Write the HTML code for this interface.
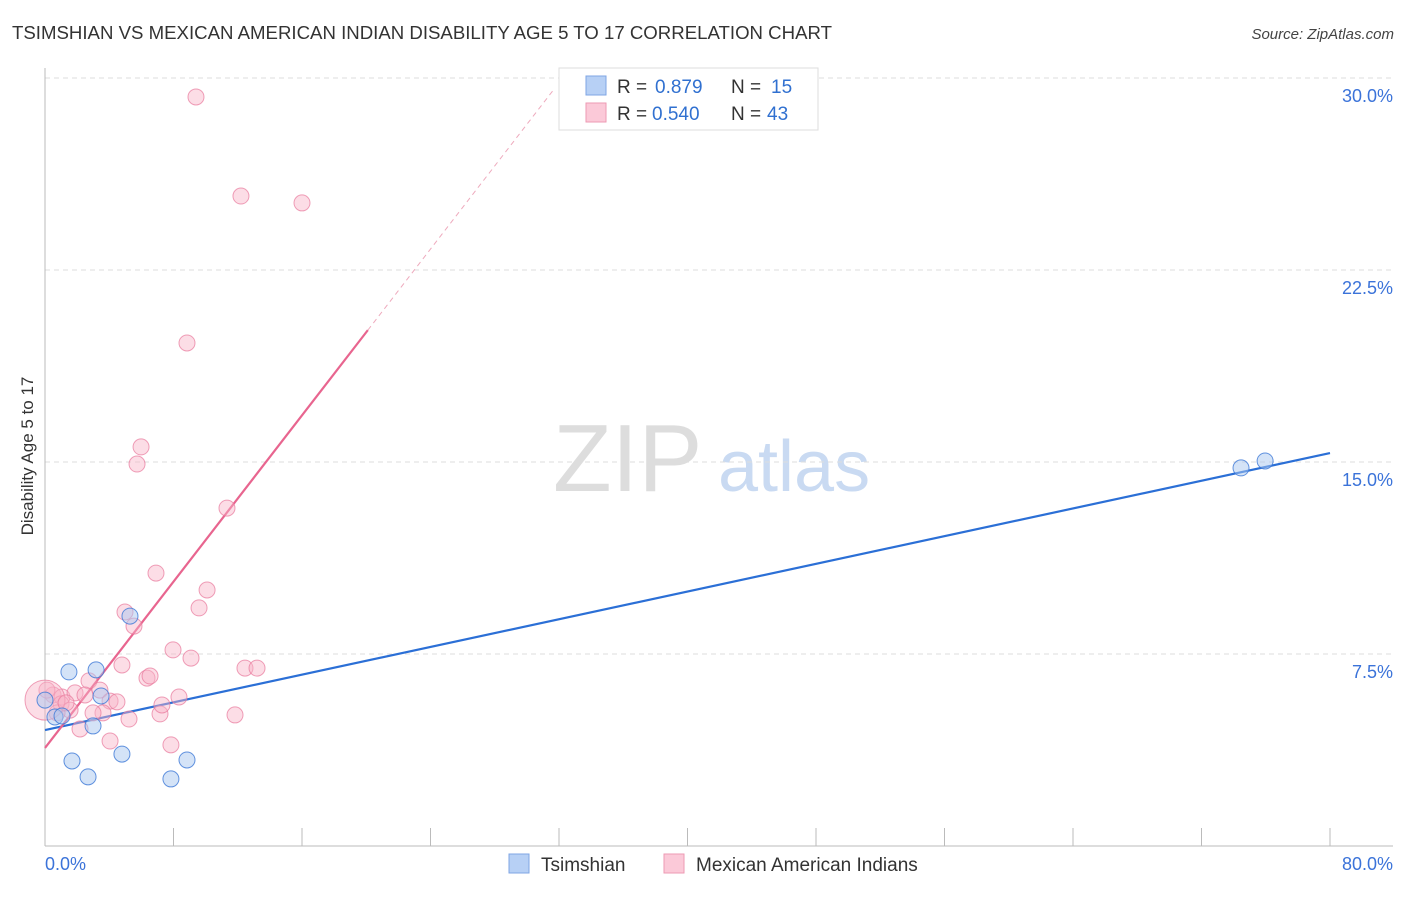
<!DOCTYPE html>
<html><head><meta charset="utf-8"><style>
body{margin:0;background:#fff;font-family:"Liberation Sans",sans-serif;}
svg text{font-family:"Liberation Sans",sans-serif;}
</style></head><body>
<svg id="chart" width="1406" height="892" xmlns="http://www.w3.org/2000/svg">
<text x="12" y="39" font-size="18" fill="#333" textLength="820" lengthAdjust="spacingAndGlyphs">TSIMSHIAN VS MEXICAN AMERICAN INDIAN DISABILITY AGE 5 TO 17 CORRELATION CHART</text>
<text x="1394" y="39" font-size="15" fill="#444" text-anchor="end" font-style="italic">Source: ZipAtlas.com</text>
<text transform="translate(33,456) rotate(-90)" font-size="17" fill="#333" text-anchor="middle">Disability Age 5 to 17</text>
<g><text x="553" y="491" font-size="96" font-family="Liberation Serif" fill="#ddd">ZIP</text><text x="718" y="491" font-size="72" fill="#c9daf2">atlas</text></g>
<g id="grid"></g><g id="axes"></g><g id="trends"></g><g id="pts"></g>
<g>
<rect x="559" y="68" width="259" height="62" fill="#fff" stroke="#ddd"/>
<rect x="586" y="76" width="20" height="19" fill="#b7d0f5" stroke="#7fa6e4"/>
<rect x="586" y="103" width="20" height="19" fill="#fbc9d8" stroke="#ee9ab3"/>
<text x="617" y="93" font-size="19" fill="#333">R =</text><text x="655" y="93" font-size="19" fill="#3070d0">0.879</text>
<text x="731" y="93" font-size="19" fill="#333">N =</text><text x="771" y="93" font-size="19" fill="#3070d0">15</text>
<text x="617" y="120" font-size="19" fill="#333">R =</text><text x="652" y="120" font-size="19" fill="#3070d0">0.540</text>
<text x="731" y="120" font-size="19" fill="#333">N =</text><text x="767" y="120" font-size="19" fill="#3070d0">43</text>
</g>
<g>
<rect x="509" y="854" width="20" height="19" fill="#b7d0f5" stroke="#7fa6e4"/>
<text x="541" y="871" font-size="19" fill="#333">Tsimshian</text>
<rect x="664" y="854" width="20" height="19" fill="#fbc9d8" stroke="#ee9ab3"/>
<text x="696" y="871" font-size="19" fill="#333">Mexican American Indians</text>
</g>
</svg>
<script>
const yTicks=[7.5,15,22.5,30];
const yTickLabels=["7.5%","15.0%","22.5%","30.0%"];
const xTicks=[0,8,16,24,32,40,48,56,64,72,80];
const blueX=[0,0.62,1.06,1.49,3.18,1.68,2.68,3.49,2.99,4.79,5.29,7.84,8.84,74.46,75.96];
const blueY=[5.70,5.04,5.08,6.80,6.88,3.32,2.70,5.86,4.69,3.59,8.98,2.62,3.36,14.77,15.04];
const pinkX=[9.40,12.20,16.00,8.84,5.98,5.73,11.33,6.91,10.09,4.98,9.59,5.54,7.97,9.09,4.79,12.45,13.20,6.35,6.54,2.74,8.34,0.50,1.06,1.87,3.42,2.49,4.05,4.48,1.00,0.12,3.61,2.99,7.16,7.28,11.83,5.23,2.18,4.05,7.84,1.56,0.75,0,1.31];
const pinkY=[29.26,25.39,25.12,19.65,15.59,14.92,13.20,10.66,10.00,9.14,9.30,8.59,7.66,7.34,7.07,6.95,6.95,6.56,6.64,6.45,5.82,5.90,5.82,5.98,6.09,5.90,5.66,5.63,5.55,6.09,5.20,5.20,5.16,5.51,5.12,4.96,4.57,4.10,3.95,5.31,5.20,5.70,5.59];
const blueTrend=[4.53,15.35];
const pinkTrend=[3.83,0.812];
const NS="http://www.w3.org/2000/svg";
const X=v=>45+v*1285/80, Y=v=>846-v*25.6;
function mk(t,a,p){const e=document.createElementNS(NS,t);for(const k in a)e.setAttribute(k,a[k]);document.getElementById(p).appendChild(e);return e;}
yTicks.forEach((t,i)=>{
 const l=mk('line',{x1:45,x2:1393,y1:Y(t),y2:Y(t),stroke:'#ddd','stroke-dasharray':'5,4'},'grid');
 
 
 const tx=mk('text',{x:1393,y:Y(t)+24,'font-size':18,fill:'#3b73d9','text-anchor':'end'},'axes');
 tx.textContent=yTickLabels[i];
 
 
});
let a=mk('line',{x1:45,x2:45,y1:68,y2:846,stroke:'#bbb'},'axes');


a=mk('line',{x1:45,x2:1393,y1:846,y2:846,stroke:'#bbb'},'axes');


xTicks.forEach(t=>{const l=mk('line',{x1:X(t),x2:X(t),y1:828,y2:846,stroke:'#bbb'},'axes');
 
 });
let t0=mk('text',{x:45,y:870,'font-size':18,fill:'#3b73d9'},'axes');t0.textContent='0.0%';


t0=mk('text',{x:1393,y:870,'font-size':18,fill:'#3b73d9','text-anchor':'end'},'axes');t0.textContent='80.0%';


let tl=mk('line',{x1:X(0),y1:Y(blueTrend[0]),x2:X(80),y2:Y(blueTrend[1]),stroke:'#2b6fd6','stroke-width':2.2},'trends');


const pe=20.1, pd=31.7;
tl=mk('line',{x1:X(0),y1:Y(pinkTrend[0]),x2:X(pe),y2:Y(pinkTrend[0]+pinkTrend[1]*pe),stroke:'#e8658f','stroke-width':2.2},'trends');


tl=mk('line',{x1:X(pe),y1:Y(pinkTrend[0]+pinkTrend[1]*pe),x2:X(pd),y2:Y(pinkTrend[0]+pinkTrend[1]*pd),stroke:'#eeaabd','stroke-width':1,'stroke-dasharray':'5,4'},'trends');


pinkX.forEach((x,i)=>{const big=(x===0);const c=mk('circle',{cx:X(x),cy:Y(pinkY[i]),r:big?20:8,fill:'rgba(248,180,200,0.45)',stroke:'rgba(232,120,155,0.7)','stroke-width':1},'pts');
 
 });
blueX.forEach((x,i)=>{const c=mk('circle',{cx:X(x),cy:Y(blueY[i]),r:8,fill:'rgba(170,200,240,0.5)',stroke:'rgba(60,120,215,0.8)','stroke-width':1},'pts');
 
 });
</script>
</body></html>
